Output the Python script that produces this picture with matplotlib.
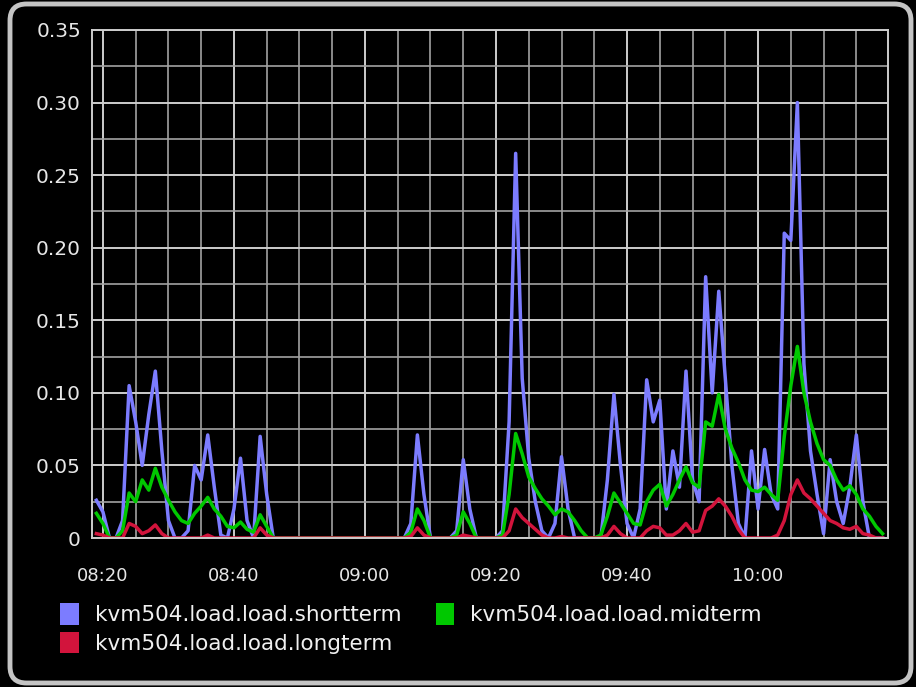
import pandas as pd
import matplotlib
matplotlib.use('Agg')
import matplotlib.pyplot as plt
import matplotlib.dates as mdates
from matplotlib.patches import Patch, FancyBboxPatch
from matplotlib.ticker import MultipleLocator, FuncFormatter

# one sample per minute, starting 08:19
start = '2024-01-01 08:19'

shortterm = [
    0.026,
    0.018, 0.0, 0.0, 0.012, 0.105, 0.080, 0.050, 0.085, 0.115, 0.060,
    0.012, 0.0, 0.0, 0.005, 0.050, 0.040, 0.071, 0.035, 0.002, 0.0,
    0.020, 0.055, 0.012, 0.0, 0.070, 0.030, 0.0, 0.0, 0.0, 0.0,
    0.0, 0.0, 0.0, 0.0, 0.0, 0.0, 0.0, 0.0, 0.0, 0.0,
    0.0, 0.0, 0.0, 0.0, 0.0, 0.0, 0.0, 0.010, 0.071, 0.030,
    0.0, 0.0, 0.0, 0.0, 0.005, 0.054, 0.020, 0.0, 0.0, 0.0,
    0.0, 0.005, 0.080, 0.265, 0.110, 0.055, 0.025, 0.005, 0.0, 0.010,
    0.056, 0.020, 0.0, 0.0, 0.0, 0.0, 0.0, 0.040, 0.099, 0.050,
    0.010, 0.0, 0.020, 0.109, 0.080, 0.095, 0.020, 0.060, 0.035, 0.115,
    0.040, 0.025, 0.180, 0.100, 0.170, 0.110, 0.050, 0.010, 0.0, 0.060,
    0.020, 0.061, 0.030, 0.020, 0.210, 0.205, 0.300, 0.120, 0.060, 0.030,
    0.003, 0.054, 0.025, 0.010, 0.035, 0.071, 0.025, 0.0, 0.0, 0.0,
]
midterm = [
    0.017,
    0.010, 0.0, 0.0, 0.005, 0.031, 0.025, 0.040, 0.033, 0.048, 0.035,
    0.026, 0.018, 0.012, 0.010, 0.017, 0.022, 0.028, 0.020, 0.015, 0.008,
    0.007, 0.011, 0.006, 0.004, 0.016, 0.008, 0.0, 0.0, 0.0, 0.0,
    0.0, 0.0, 0.0, 0.0, 0.0, 0.0, 0.0, 0.0, 0.0, 0.0,
    0.0, 0.0, 0.0, 0.0, 0.0, 0.0, 0.0, 0.004, 0.020, 0.012,
    0.0, 0.0, 0.0, 0.0, 0.002, 0.018, 0.010, 0.0, 0.0, 0.0,
    0.0, 0.002, 0.030, 0.072, 0.058, 0.042, 0.034, 0.027, 0.022, 0.016,
    0.020, 0.018, 0.012, 0.005, 0.0, 0.0, 0.002, 0.015, 0.031, 0.024,
    0.017, 0.010, 0.009, 0.025, 0.033, 0.037, 0.022, 0.030, 0.040, 0.049,
    0.038, 0.035, 0.080, 0.077, 0.099, 0.075, 0.062, 0.052, 0.040, 0.033,
    0.032, 0.035, 0.030, 0.026, 0.070, 0.105, 0.132, 0.100, 0.080, 0.065,
    0.054, 0.050, 0.040, 0.033, 0.036, 0.030, 0.020, 0.015, 0.008, 0.003,
]
longterm = [
    0.003,
    0.002, 0.0, 0.0, 0.0, 0.010, 0.008, 0.003, 0.005, 0.009, 0.003,
    0.0, 0.0, 0.0, 0.0, 0.0, 0.0, 0.002, 0.0, 0.0, 0.0,
    0.0, 0.0, 0.0, 0.0, 0.007, 0.002, 0.0, 0.0, 0.0, 0.0,
    0.0, 0.0, 0.0, 0.0, 0.0, 0.0, 0.0, 0.0, 0.0, 0.0,
    0.0, 0.0, 0.0, 0.0, 0.0, 0.0, 0.0, 0.001, 0.007, 0.002,
    0.0, 0.0, 0.0, 0.0, 0.0, 0.002, 0.001, 0.0, 0.0, 0.0,
    0.0, 0.0, 0.005, 0.020, 0.014, 0.010, 0.006, 0.002, 0.0, 0.0,
    0.001, 0.0, 0.0, 0.0, 0.0, 0.0, 0.0, 0.002, 0.008, 0.003,
    0.0, 0.0, 0.0, 0.005, 0.008, 0.007, 0.002, 0.002, 0.005, 0.010,
    0.004, 0.005, 0.019, 0.022, 0.027, 0.022, 0.015, 0.006, 0.0, 0.0,
    0.0, 0.0, 0.0, 0.002, 0.012, 0.030, 0.040, 0.031, 0.027, 0.022,
    0.017, 0.012, 0.010, 0.007, 0.006, 0.008, 0.003, 0.002, 0.0, 0.0,
]

names = ['kvm504.load.load.shortterm', 'kvm504.load.load.midterm',
         'kvm504.load.load.longterm']
colors = ['#7c7cff', '#00c800', '#d2143c']

times = pd.date_range(start, periods=len(shortterm), freq='min')

fig = plt.figure(figsize=(9.16, 6.87), dpi=100, facecolor='black')
ax = fig.add_axes([92 / 916, 1 - 538 / 687, (888 - 92) / 916, (538 - 30) / 687])
ax.set_facecolor('black')

for vals, name, col in zip([shortterm, midterm, longterm], names, colors):
    ax.plot(times, vals, color=col, lw=2.5, label=name)

ax.set_ylim(0, 0.35)
ax.set_xlim(pd.Timestamp('2024-01-01 08:18:20'), pd.Timestamp('2024-01-01 10:19:50'))

ax.yaxis.set_major_locator(MultipleLocator(0.05))
ax.yaxis.set_minor_locator(MultipleLocator(0.025))
ax.yaxis.set_major_formatter(FuncFormatter(lambda v, p: '0' if abs(v) < 1e-9 else '%.2f' % v))
ax.xaxis.set_major_locator(mdates.MinuteLocator(byminute=[0, 20, 40]))
ax.xaxis.set_minor_locator(mdates.MinuteLocator(byminute=range(0, 60, 5)))
ax.xaxis.set_major_formatter(mdates.DateFormatter('%H:%M'))

ax.set_axisbelow(True)
ax.grid(True, which='major', color='#cdcdcd', lw=1.4)
ax.grid(True, which='minor', color='#a2a2a2', lw=1.2)
for s in ax.spines.values():
    s.set_color('#cdcdcd')
    s.set_linewidth(1.4)

ax.tick_params(which='both', length=0, colors='#e6e6e6')
ax.tick_params(axis='x', pad=21, labelsize=13)
ax.tick_params(axis='y', pad=8, labelsize=14.5)

handles = [Patch(facecolor=c, edgecolor='none') for c in colors]
# order so rows read: short, mid / long
fig.legend([handles[0], handles[2], handles[1]], [names[0], names[2], names[1]],
           ncol=2, loc='upper left', bbox_to_anchor=(41 / 916, 1 - 584 / 687),
           frameon=False, fontsize=15.5, labelcolor='#f0f0f0',
           handlelength=0.85, handleheight=1.15, handletextpad=0.75,
           columnspacing=1.6, labelspacing=0.3)

border = FancyBboxPatch((10 / 916, 4 / 687), 901 / 916, 679 / 687,
                        boxstyle='round,pad=0,rounding_size=0.018',
                        mutation_aspect=916 / 687,
                        transform=fig.transFigure, fill=False,
                        edgecolor='#c4c4c4', lw=3.5)
fig.patches.append(border)

fig.savefig('out.png', dpi=100, facecolor='black')
